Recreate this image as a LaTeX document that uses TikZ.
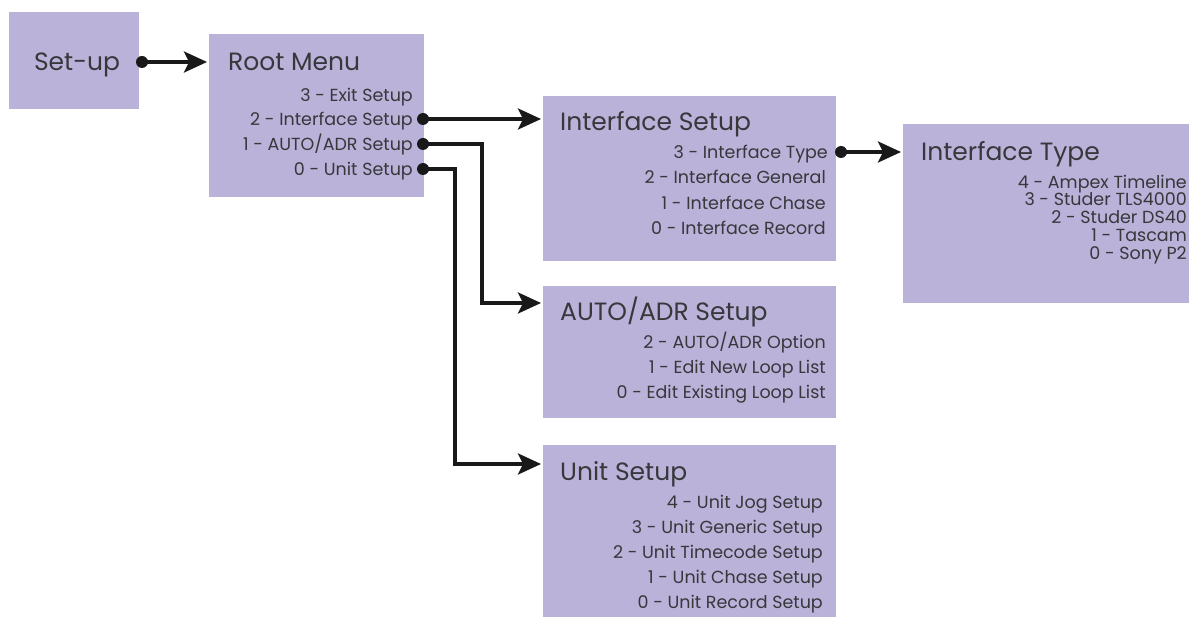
\documentclass[tikz,border=0pt]{standalone}
\usepackage{fontspec}
\setmainfont{Poppins}
\usetikzlibrary{arrows.meta,calc}
\definecolor{boxfill}{RGB}{186,178,216}
\definecolor{txt}{RGB}{55,55,60}
\tikzset{
  menubox/.style={fill=boxfill, draw=none},
  ttl/.style={anchor=west, inner sep=0pt, text=txt, font=\fontsize{25}{27}\selectfont, text height=17.5pt, text depth=0pt},
  itm/.style={anchor=east, inner sep=0pt, text=txt, font=\fontsize{17.5}{19}\selectfont, text height=12.3pt, text depth=0pt},
  conn/.style={line width=3.2pt, black!90, -{Stealth[length=23pt,width=21pt,inset=5pt]}, shorten >=2pt},
  dot/.style={circle, fill=black!90, inner sep=0pt, minimum size=12pt}
}
\begin{document}
\begin{tikzpicture}[x=1pt,y=-1pt]
\useasboundingbox (0,0) rectangle (1189,617);
% boxes
\node[menubox, anchor=north west, minimum width=130pt, minimum height=97pt, inner sep=0pt] (su) at (9,12) {};
\node[menubox, anchor=north west, minimum width=215pt, minimum height=163pt, inner sep=0pt] (rm) at (209,34) {};
\node[menubox, anchor=north west, minimum width=293pt, minimum height=165pt, inner sep=0pt] (is) at (543,96) {};
\node[menubox, anchor=north west, minimum width=286pt, minimum height=179pt, inner sep=0pt] (it) at (903,124) {};
\node[menubox, anchor=north west, minimum width=293pt, minimum height=132pt, inner sep=0pt] (ads) at (543,286) {};
\node[menubox, anchor=north west, minimum width=293pt, minimum height=172pt, inner sep=0pt] (us) at (543,445) {};
% Set-up
\node[anchor=center, inner sep=0pt, text=txt, font=\fontsize{25}{27}\selectfont, text height=17.5pt, text depth=0pt] (sut) at (77,62) {Set-up};
% Root menu
\node[ttl] (rmt) at (228,62) {Root Menu};
\node[itm] (rm3) at (413,95) {3 - Exit Setup};
\node[itm] (rm2) at (413,119) {2 - Interface Setup};
\node[itm] (rm1) at (413,144) {1 - AUTO/ADR Setup};
\node[itm] (rm0) at (413,169) {0 - Unit Setup};
% Interface Setup
\node[ttl] (ist) at (560,122) {Interface Setup};
\node[itm] (is3) at (828,152) {3 - Interface Type};
\node[itm] (is2) at (826,177) {2 - Interface General};
\node[itm] (is1) at (826,203) {1 - Interface Chase};
\node[itm] (is0) at (826,228) {0 - Interface Record};
% Interface Type
\node[ttl] (itt) at (921,152) {Interface Type};
\node[itm] (it4) at (1187,182) {4 - Ampex Timeline};
\node[itm] (it3) at (1187,199.5) {3 - Studer TLS4000};
\node[itm] (it2) at (1187,217) {2 - Studer DS40};
\node[itm] (it1) at (1187,235) {1 - Tascam};
\node[itm] (it0) at (1187,253) {0 - Sony P2};
% AUTO/ADR
\node[ttl] (adst) at (560,312) {AUTO/ADR Setup};
\node[itm] (ads2) at (826,342) {2 - AUTO/ADR Option};
\node[itm] (ads1) at (826,367) {1 - Edit New Loop List};
\node[itm] (ads0) at (826,392) {0 - Edit Existing Loop List};
% Unit Setup
\node[ttl] (ust) at (560,472) {Unit Setup};
\node[itm] (us4) at (823,502) {4 - Unit Jog Setup};
\node[itm] (us3) at (823,527) {3 - Unit Generic Setup};
\node[itm] (us2) at (823,552) {2 - Unit Timecode Setup};
\node[itm] (us1) at (823,577) {1 - Unit Chase Setup};
\node[itm] (us0) at (823,602) {0 - Unit Record Setup};
% connector start dots
\coordinate (dsu) at (142,62);
\coordinate (d2) at ([xshift=10pt]rm2.east);
\coordinate (d1) at ([xshift=10pt]rm1.east);
\coordinate (d0) at ([xshift=10pt]rm0.east);
\coordinate (dis) at ([xshift=13pt]is3.east);
% connectors
\draw[conn] (dsu) -- (rm.west |- dsu);
\draw[conn] (d2) -- (is.west |- d2);
\draw[conn] (d1) -- ++(59,0) |- ([yshift=-17pt]ads.north west);
\draw[conn] (d0) -- ++(32,0) |- ([yshift=-19pt]us.north west);
\draw[conn] (dis) -- (it.west |- dis);
\foreach \d in {dsu,d2,d1,d0,dis} \node[dot] at (\d) {};
\end{tikzpicture}
\end{document}
